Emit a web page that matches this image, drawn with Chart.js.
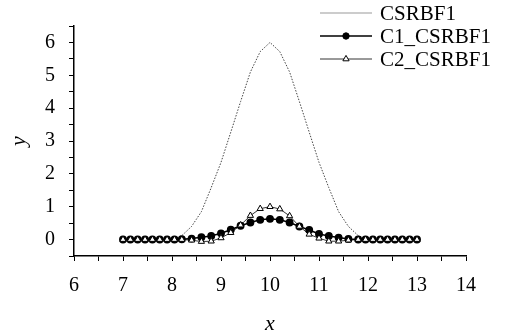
<!DOCTYPE html>
<html>
<head>
<meta charset="utf-8">
<script src="https://cdn.jsdelivr.net/npm/chart.js@4"></script>
<style>
  html, body { margin: 0; padding: 0; background: #fff; }
  #wrap { width: 517px; height: 333px; }
</style>
</head>
<body>
<div id="wrap"><canvas id="chart" width="517" height="333"></canvas></div>
<script>
// x positions of the C1/C2 samples (finer spacing away from the peak)
const sampleX = [7, 7.15, 7.3, 7.45, 7.6, 7.75, 7.9, 8.05, 8.2,
    8.4, 8.6, 8.8, 9.0, 9.2, 9.4, 9.6, 9.8, 10, 10.2, 10.4, 10.6, 10.8, 11.0, 11.2, 11.4, 11.6,
    11.8, 11.95, 12.1, 12.25, 12.4, 12.55, 12.7, 12.85, 13];
const c1Values = [0, 0, 0, 0, 0, 0, 0, 0, 0.01,
    0.03, 0.07, 0.11, 0.19, 0.3, 0.42, 0.52, 0.6, 0.63, 0.6, 0.52, 0.4, 0.29, 0.17, 0.11, 0.06, 0.02,
    0, 0, 0, 0, 0, 0, 0, 0, 0];
const c2Values = [0, 0, 0, 0, 0, 0, 0, 0, 0,
    -0.02, -0.06, -0.05, 0.05, 0.21, 0.44, 0.73, 0.94, 1.0, 0.93, 0.72, 0.4, 0.16, 0.04, -0.05, -0.05, -0.02,
    0, 0, 0, 0, 0, 0, 0, 0, 0];
// exact function, dotted grey curve
const exactX = [7, 7.5, 8.0, 8.2, 8.4, 8.6, 8.8, 9.0, 9.2, 9.4, 9.6, 9.8, 10,
    10.2, 10.4, 10.6, 10.8, 11.0, 11.2, 11.4, 11.6, 11.8, 12.0, 12.5, 13];
const exactValues = [0, 0, 0, 0.12, 0.4, 0.85, 1.58, 2.35, 3.27, 4.2, 5.1, 5.72, 6.0,
    5.72, 5.1, 4.2, 3.27, 2.35, 1.58, 0.85, 0.4, 0.12, 0, 0, 0];

const xTicks = { min: 6, max: 14, step: 0.5 };
const yTicks = { min: -0.5, max: 6.5, step: 0.5 };

const seriesNames = ['CSRBF1', 'C1_CSRBF1', 'C2_CSRBF1'];

const toPoints = (xs, ys) => xs.map((x, i) => ({ x: x, y: ys[i] }));
const wholeOnly = v => Number.isInteger(v) ? String(v) : '';
const serif = 'Liberation Serif';

// legend drawn inside the plot, line sample with marker in the middle
const insideLegend = {
    id: 'insideLegend',
    afterDraw(chart) {
        const ctx = chart.ctx;
        const rows = [13, 36, 59];
        const x0 = 320, x1 = 372;
        ctx.save();
        chart.data.datasets.forEach((ds, i) => {
            const y = rows[i];
            ctx.beginPath();
            ctx.strokeStyle = i === 0 ? '#999' : ds.borderColor;
            ctx.lineWidth = ds.borderWidth;
            ctx.moveTo(x0, y);
            ctx.lineTo(x1, y);
            ctx.stroke();
            if (ds.pointRadius > 0) {
                ctx.fillStyle = ds.pointBackgroundColor;
                ctx.strokeStyle = ds.pointBorderColor;
                ctx.lineWidth = 1;
                Chart.helpers.drawPoint(ctx, {
                    pointStyle: ds.pointStyle, radius: ds.pointRadius, rotation: 0, borderWidth: 1
                }, (x0 + x1) / 2, y);
            }
            ctx.fillStyle = '#000';
            ctx.font = '21px "' + serif + '"';
            ctx.textBaseline = 'middle';
            ctx.textAlign = 'left';
            ctx.fillText(ds.label, 380, y + 1);
        });
        ctx.restore();
    }
};

new Chart(document.getElementById('chart'), {
    type: 'scatter',
    data: {
        datasets: [
            {
                label: seriesNames[0],
                data: toPoints(exactX, exactValues),
                showLine: true,
                borderColor: '#444',
                borderWidth: 1,
                borderDash: [1.5, 1.5],
                pointRadius: 0,
                order: 2
            },
            {
                label: seriesNames[1],
                data: toPoints(sampleX, c1Values),
                showLine: true,
                borderColor: '#000',
                borderWidth: 1.5,
                pointStyle: 'circle',
                pointRadius: 3.2,
                pointBackgroundColor: '#000',
                pointBorderColor: '#000',
                order: 1
            },
            {
                label: seriesNames[2],
                data: toPoints(sampleX, c2Values),
                showLine: true,
                borderColor: '#000',
                borderWidth: 0.8,
                pointStyle: 'triangle',
                pointRadius: 3.6,
                pointBackgroundColor: '#fff',
                pointBorderColor: '#000',
                pointBorderWidth: 1,
                order: 0
            }
        ]
    },
    options: {
        responsive: false,
        animation: false,
        layout: { padding: { top: 5, right: 51, left: 0, bottom: 0 } },
        plugins: {
            legend: { display: false },
            tooltip: { enabled: false }
        },
        scales: {
            x: {
                type: 'linear',
                min: xTicks.min,
                max: xTicks.max,
                afterFit: s => { s.height = 77; },
                border: { display: true, color: '#000', width: 1.5 },
                grid: { drawOnChartArea: false, drawTicks: true, tickLength: 5, color: '#000' },
                ticks: {
                    stepSize: xTicks.step,
                    autoSkip: false,
                    maxRotation: 0,
                    padding: 13,
                    color: '#000',
                    font: { family: serif, size: 20 },
                    callback: wholeOnly
                },
                title: {
                    display: true,
                    text: 'x',
                    color: '#000',
                    padding: { top: 0, bottom: 0 },
                    font: { family: serif, size: 22, style: 'italic', lineHeight: 0.8 }
                }
            },
            y: {
                type: 'linear',
                min: yTicks.min,
                max: yTicks.max,
                afterFit: s => { s.width = 74; },
                border: { display: true, color: '#000', width: 1.5 },
                grid: { drawOnChartArea: false, drawTicks: true, tickLength: 5, color: '#000' },
                ticks: {
                    stepSize: yTicks.step,
                    autoSkip: false,
                    padding: 14,
                    color: '#000',
                    font: { family: serif, size: 20 },
                    callback: wholeOnly
                },
                title: {
                    display: true,
                    text: 'y',
                    color: '#000',
                    padding: { top: 6, bottom: 0 },
                    font: { family: serif, size: 22, style: 'italic' }
                }
            }
        }
    },
    plugins: [insideLegend]
});
</script>
</body>
</html>
